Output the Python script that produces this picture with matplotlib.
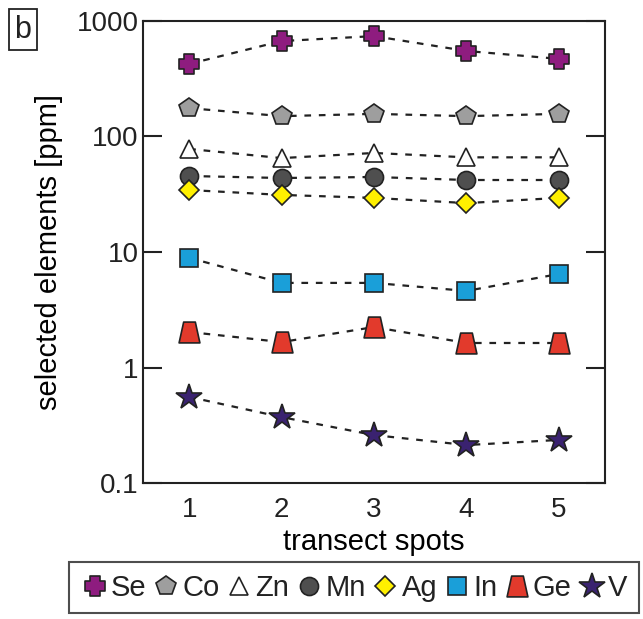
import matplotlib
matplotlib.use('Agg')
import matplotlib.pyplot as plt
from matplotlib.path import Path

spots = [1, 2, 3, 4, 5]

se = [425, 670, 740, 550, 470]
co = [176, 150, 157, 150, 157]
zn = [78, 65, 72, 66, 66]
mn = [45.5, 43.7, 44.6, 42, 42]
ag = [34.4, 31.2, 29.4, 26.5, 29.4]
in_ = [8.9, 5.4, 5.4, 4.6, 6.45]
ge = [2.03, 1.66, 2.24, 1.63, 1.63]
v = [0.556, 0.372, 0.26, 0.213, 0.236]

names = ['Se', 'Co', 'Zn', 'Mn', 'Ag', 'In', 'Ge', 'V']

# trapezoid marker for Ge
trap = Path([(-0.5, -0.5), (0.5, -0.5), (0.28, 0.5), (-0.28, 0.5), (-0.5, -0.5)],
            [Path.MOVETO, Path.LINETO, Path.LINETO, Path.LINETO, Path.CLOSEPOLY])

# fat cross for Se
a, b = 0.27, 0.5
cross_pts = [(-a, -b), (a, -b), (a, -a), (b, -a), (b, a), (a, a), (a, b),
             (-a, b), (-a, a), (-b, a), (-b, -a), (-a, -a), (-a, -b)]
cross = Path(cross_pts, [Path.MOVETO] + [Path.LINETO] * 11 + [Path.CLOSEPOLY])

styles = [
    (se, cross, '#8E1C7F', 14),
    (co, 'p', '#9E9E9E', 15),
    (zn, '^', 'white', 13),
    (mn, 'o', '#4F4F4F', 13),
    (ag, 'D', '#FFF000', 10),
    (in_, 's', '#1A9FD9', 13),
    (ge, trap, '#E23A2C', 15),
    (v, '*', '#3A2270', 19),
]

plt.rcParams['font.family'] = ['Liberation Sans', 'DejaVu Sans']
plt.rcParams['text.color'] = '#222222'
plt.rcParams['xtick.color'] = '#222222'
plt.rcParams['ytick.color'] = '#222222'

fig = plt.figure(figsize=(6.43, 6.19), dpi=100)
ax = fig.add_axes([0.2224, 0.2197, 0.7185, 0.7464])

handles = []
for (vals, mk, col, ms), nm in zip(styles, names):
    ax.plot(spots, vals, color='#222222', linestyle=(0, (3, 3.5)), linewidth=1.6, zorder=1)
    h, = ax.plot(spots, vals, linestyle='none', marker=mk, markersize=ms,
                 markerfacecolor=col, markeredgecolor='#222222', markeredgewidth=1.2,
                 label=nm, zorder=3)
    handles.append(h)

ax.set_yscale('log')
ax.set_ylim(0.1, 1000)
ax.set_xlim(0.5, 5.5)
ax.set_xticks(spots)
ax.set_yticks([0.1, 1, 10, 100, 1000])
ax.set_yticklabels(['0.1', '1', '10', '100', '1000'])
ax.minorticks_off()
ax.tick_params(axis='y', which='major', direction='in', length=14, width=1.5,
               labelsize=20, right=True, pad=3)
ax.tick_params(axis='x', length=0, labelsize=20, pad=10)
for s in ax.spines.values():
    s.set_linewidth(1.5)
    s.set_color('#222222')

ax.set_xlabel('transect spots', fontsize=21, labelpad=4)
ax.set_ylabel('selected elements [ppm]', fontsize=21, labelpad=10)

fig.text(0.022, 0.952, 'b', fontsize=22, va='center', ha='left',
         bbox=dict(boxstyle='square,pad=0.18', facecolor='white', edgecolor='#222222', linewidth=1.3))

leg = fig.legend(handles=handles, loc='center', bbox_to_anchor=(0.5505, 0.0505), ncol=8,
                 fontsize=21, frameon=True, fancybox=False, edgecolor='#222222',
                 handletextpad=0.08, columnspacing=0.2, handlelength=0.95,
                 borderpad=0.4, markerscale=1.0)
leg.get_frame().set_linewidth(1.5)

plt.savefig('out.png', dpi=100)
